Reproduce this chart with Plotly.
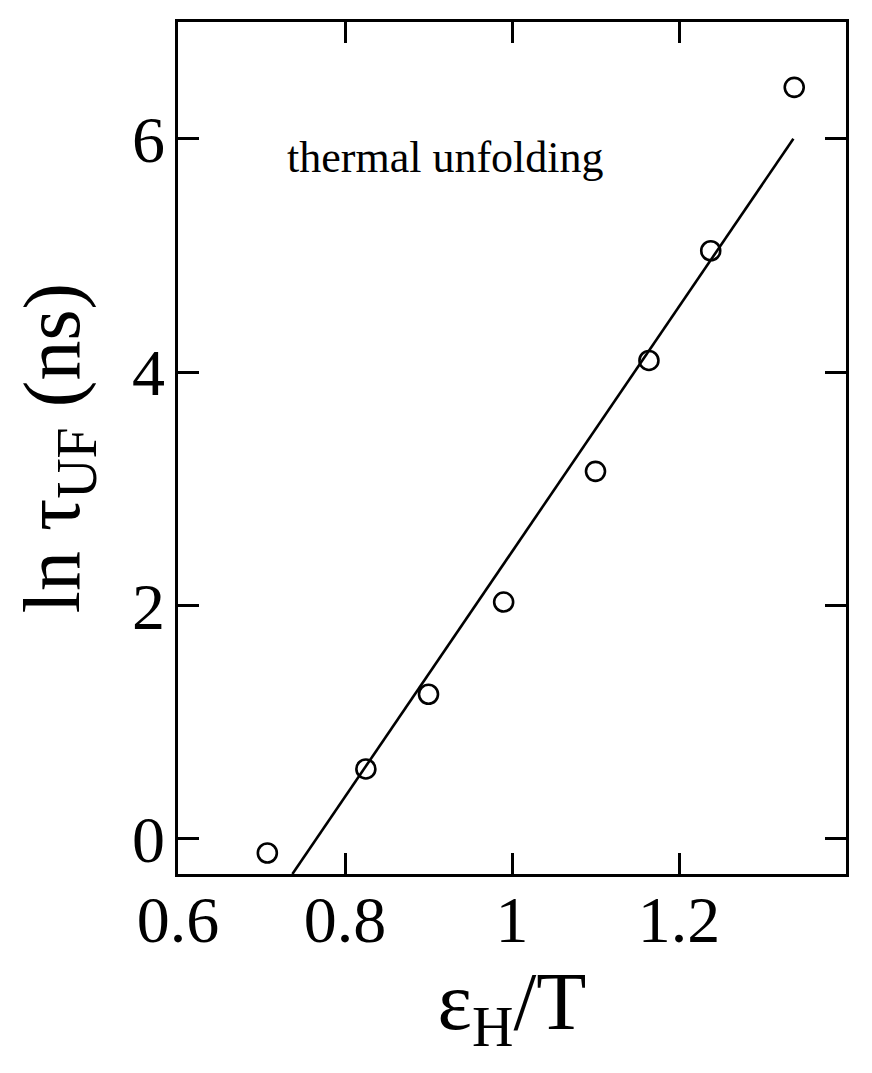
import plotly.graph_objects as go

# data
eps_over_T = [0.707, 0.825, 0.900, 0.990, 1.100, 1.164, 1.238, 1.338]
ln_tau = [-0.12, 0.60, 1.24, 2.03, 3.15, 4.10, 5.04, 6.44]
fit_x = [0.737, 1.337]
fit_y = [-0.30, 6.00]
x_ticks = [0.6, 0.8, 1.0, 1.2]
x_tick_labels = ["0.6", "0.8", "1", "1.2"]
y_ticks = [0, 2, 4, 6]
y_tick_labels = ["0", "2", "4", "6"]

FONT = "Liberation Serif, Times New Roman, serif"

fig = go.Figure()
fig.add_trace(go.Scatter(x=fit_x, y=fit_y, mode="lines",
                         line=dict(color="black", width=2.6), showlegend=False))
fig.add_trace(go.Scatter(x=eps_over_T, y=ln_tau, mode="markers",
                         marker=dict(symbol="circle-open", size=19, color="black",
                                     line=dict(width=2.6, color="black")),
                         showlegend=False))

fig.add_annotation(x=0.92, y=5.84, text="thermal unfolding", showarrow=False,
                   font=dict(family=FONT, size=44, color="black"))

axis_common = dict(showline=True, linecolor="black", linewidth=2.8, mirror="ticks",
                   ticks="inside", ticklen=21, tickwidth=2.5, tickcolor="black",
                   showgrid=False, zeroline=False,
                   tickfont=dict(family=FONT, size=66, color="black"))

fig.update_xaxes(range=[0.6, 1.4], tickvals=x_ticks, ticktext=x_tick_labels,
                 ticklabelstandoff=-14,
                 title=dict(text="ε<sub>H</sub>/T", font=dict(family=FONT, size=82, color="black"),
                            standoff=0),
                 **axis_common)
fig.update_yaxes(range=[-0.3, 7.0], tickvals=y_ticks, ticktext=y_tick_labels,
                 ticklabelstandoff=-3,
                 title=dict(text="ln τ<sub>UF</sub> (ns)", font=dict(family=FONT, size=80, color="black"),
                            standoff=28),
                 **axis_common)

fig.update_layout(width=872, height=1073, plot_bgcolor="white", paper_bgcolor="white",
                  margin=dict(l=170, r=34, t=11, b=207))

fig.write_html("out.html")
